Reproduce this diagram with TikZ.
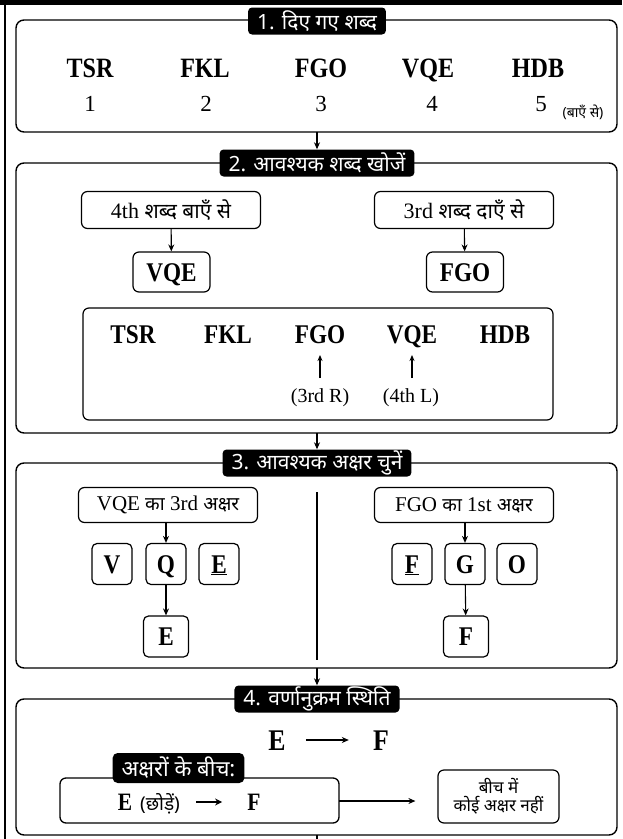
\documentclass[tikz,border=0pt]{standalone}
\usepackage{fontspec}
\setmainfont{Liberation Serif}
\newfontfamily\cond{Liberation Serif}[FakeStretch=0.86]
\newfontfamily\dev[Script=Devanagari]{Noto Sans}
\usetikzlibrary{arrows.meta}
\newcommand\fsz[1]{\fontsize{#1}{#1}\selectfont}
\begin{document}
\begin{tikzpicture}[x=1pt,y=-1pt,
  secbox/.style={draw, line width=1.4pt, rounded corners=8pt},
  tagbox/.style={fill=black, text=white, rounded corners=4pt, inner xsep=9pt, inner ysep=0pt, minimum height=27pt, font=\dev\fsz{21}},
  subbox/.style={draw, line width=1.2pt, rounded corners=6pt, minimum height=37pt, minimum width=179pt, inner sep=0pt},
  wordbox/.style={draw, line width=1.2pt, rounded corners=6pt, minimum height=40pt, minimum width=77pt, inner sep=0pt, text height=19pt, text depth=0pt, font=\cond\bfseries\fsz{27}},
  letbox/.style={draw, line width=1.2pt, rounded corners=5pt, minimum height=41pt, minimum width=40pt, inner sep=0pt, text height=18pt, text depth=0pt, font=\cond\bfseries\fsz{27}},
  bigword/.style={font=\cond\bfseries\fsz{28}, inner sep=0pt, anchor=base},
  midword/.style={font=\cond\bfseries\fsz{27}, inner sep=0pt, anchor=base},
  numtxt/.style={font=\fsz{23}, inner sep=0pt, anchor=base},
  lbl/.style={font=\fsz{20}, inner sep=0pt, anchor=base},
  arr/.style={-{Stealth[length=7pt,width=6pt]}, line width=1.1pt},
  uparr/.style={-{Stealth[length=6pt,width=5pt]}, line width=1.2pt}
]
\useasboundingbox (0,0) rectangle (622,839);
\fill[black] (0,0) rectangle (622,5);
\draw[line width=1.8pt] (5,0) -- (5,839);

% ---------- Section 1 ----------
\draw[secbox] (16,20) rectangle (617,132);
\coordinate (s1b) at (317,132);
\node[tagbox] (t1) at (317,21) {1. दिए गए शब्द};
\node[bigword] (a1) at (90,77) {TSR};
\node[bigword] (a2) at (205,77) {FKL};
\node[bigword] (a3) at (321,77) {FGO};
\node[bigword] (a4) at (428,77) {VQE};
\node[bigword] (a5) at (538,77) {HDB};
\node[numtxt] (n1) at (90,111) {1};
\node[numtxt] (n2) at (206,111) {2};
\node[numtxt] (n3) at (321,111) {3};
\node[numtxt] (n4) at (432,111) {4};
\node[numtxt] (n5) at (541,111) {5};
\node[font=\dev\fsz{14}, inner sep=0pt, anchor=base] (lft) at (583,117) {(बाएँ से)};

% ---------- Section 2 ----------
\draw[secbox] (16,163) rectangle (617,433);
\node[tagbox] (t2) at (317,163) {2. आवश्यक शब्द खोजें};
\draw[arr] (s1b) -- (t2.north);
\node[subbox] (sb1) at (171,210) {\fsz{22}4th {\dev\fsz{21}शब्द बाएँ से}};
\node[subbox] (sb2) at (464,210) {\fsz{22}3rd {\dev\fsz{21}शब्द दाएँ से}};
\node[wordbox] (r1) at (171.5,272) {VQE};
\node[wordbox] (r2) at (465,272) {FGO};
\draw[arr] (sb1) -- (r1);
\draw[arr] (sb2) -- (r2);
\draw[line width=1.2pt, rounded corners=6pt] (83,308) rectangle (553,420);
\node[midword] (b1) at (133,343) {TSR};
\node[midword] (b2) at (228,343) {FKL};
\node[midword] (b3) at (320,343) {FGO};
\node[midword] (b4) at (412,343) {VQE};
\node[midword] (b5) at (505,343) {HDB};
\coordinate (u3) at (320,378);
\coordinate (u4) at (412,378);
\draw[uparr] (u3) -- (u3 |- 0,355);
\draw[uparr] (u4) -- (u4 |- 0,355);
\node[lbl] (l3) at (320,402) {(3rd R)};
\node[lbl] (l4) at (411,402) {(4th L)};
\coordinate (s2b) at (317,433);

% ---------- Section 3 ----------
\draw[secbox] (16,463) rectangle (617,668);
\node[tagbox] (t3) at (317,463) {3. आवश्यक अक्षर चुनें};
\draw[arr] (s2b) -- (t3.north);
\node[subbox, minimum height=35pt] (c1) at (168,505) {\fsz{21}VQE {\dev\fsz{19}का} 3rd {\dev\fsz{19}अक्षर}};
\node[subbox, minimum height=35pt] (c2) at (464,505) {\fsz{21}FGO {\dev\fsz{19}का} 1st {\dev\fsz{19}अक्षर}};
\node[letbox] (v) at (112,564) {V};
\node[letbox] (q) at (166,564) {Q};
\node[letbox] (e) at (219,564) {\underline{E}};
\node[letbox] (f) at (412,564) {\underline{F}};
\node[letbox] (g) at (465,564) {G};
\node[letbox] (o) at (517,564) {O};
\node[letbox, minimum width=45pt] (re) at (166,636.5) {E};
\node[letbox, minimum width=45pt] (rf) at (466,636.5) {F};
\draw[arr] (c1.south -| q) -- (q);
\draw[arr] (c2.south -| g) -- (g);
\draw[arr] (q) -- (re);
\draw[arr] (g) -- (rf);
\coordinate (d1) at (317,492);
\coordinate (d2) at (317,660);
\draw[line width=1.1pt] (d1) -- (d2);
\coordinate (s3b) at (317,668);

% ---------- Section 4 ----------
\draw[secbox] (16,699) rectangle (617,835);
\node[tagbox] (t4) at (317,699) {4. वर्णानुक्रम स्थिति};
\draw[arr] (s3b) -- (t4.north);
\node[font=\cond\bfseries\fsz{30}, inner sep=0pt, anchor=base] (e4) at (277,750) {E};
\node[font=\cond\bfseries\fsz{30}, inner sep=0pt, anchor=base] (f4) at (381,750) {F};
\draw[-{Stealth[length=7pt,width=6pt]}, line width=1.1pt] (e4.east |- 0,740) ++(20,0) -- ++(43,0);
\draw[line width=1.3pt, rounded corners=6pt] (60,778) rectangle (339,823);
\coordinate (lbE) at (339,801);
\node[font=\cond\bfseries\fsz{25}, inner sep=0pt, anchor=base] (e5) at (125,810) {E};
\node[font=\dev\fsz{19}, inner sep=0pt, anchor=base] (p5) at (160,810) {(छोड़ें)};
\node[font=\cond\bfseries\fsz{25}, inner sep=0pt, anchor=base] (f5) at (254,810) {F};
\draw[-{Stealth[length=7pt,width=7pt]}, line width=1.3pt] (p5.east |- 0,802) ++(16,0) -- ++(26,0);
\node[tagbox, minimum height=30pt, rounded corners=5pt, font=\dev\fsz{22}] (t5) at (178.5,768) {अक्षरों के बीच:};
\node[draw, line width=1.2pt, rounded corners=6pt, minimum width=121pt, minimum height=53pt, inner sep=0pt, align=center, font=\dev\fsz{17}] (rb) at (498.5,796.5) {बीच में\\[1pt]कोई अक्षर नहीं};
\draw[arr, shorten >=22pt] (lbE) -- (lbE -| rb.west);
\coordinate (s4b) at (317,835);
\coordinate (s4e) at (317,839);
\draw[line width=1.1pt] (s4b) -- (s4e);
\end{tikzpicture}
\end{document}
